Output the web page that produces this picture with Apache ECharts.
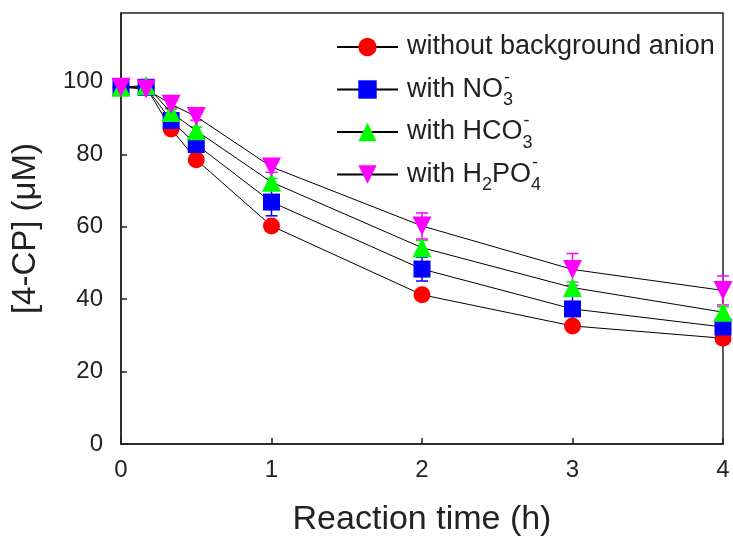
<!DOCTYPE html>
<html>
<head>
<meta charset="utf-8">
<script src="https://cdn.jsdelivr.net/npm/echarts@6/dist/echarts.min.js"></script>
<style>
  html, body { margin: 0; padding: 0; background: #fff; }
  #main { width: 733px; height: 542px; }
</style>
</head>
<body>
<div id="main"></div>
<script>
// reaction time (h)
var times = [0, 0.167, 0.333, 0.5, 1, 2, 3, 4];

// [4-CP] (uM) for each condition, with error bars
var noAnion    = [98.5, 98.5, 87.0, 78.5, 60.2, 41.2, 32.6, 29.2];
var noAnionErr = [1, 1, 1, 1, 1.2, 1, 1, 1];
var nitrate    = [98.5, 98.5, 89.3, 82.7, 66.8, 48.3, 37.3, 32.3];
var nitrateErr = [1, 1, 1, 1.5, 3.8, 3.3, 3.5, 1.5];
var bicarb     = [98.5, 99.0, 91.5, 86.5, 72.3, 54.2, 43.2, 36.4];
var bicarbErr  = [1, 1, 1, 1, 1, 2, 1.5, 1.5];
var phosph     = [98.5, 98.0, 93.8, 90.4, 76.5, 60.2, 48.2, 42.4];
var phosphErr  = [1, 1, 1, 1, 1.5, 3.6, 4.4, 4.0];

var xTicks = [0, 1, 2, 3, 4];
var yTicks = [0, 20, 40, 60, 80, 100];

var names = ['without background anion', 'with NO3', 'with HCO3', 'with H2PO4'];

function pairs(ys) {
    return times.map(function (t, i) { return [t, ys[i]]; });
}
function errData(ys, es) {
    return times.map(function (t, i) { return [t, ys[i], es[i]]; });
}

function errSeries(name, ys, es, color) {
    return {
        type: 'custom',
        name: name + ' err',
        z: 1,
        silent: true,
        data: errData(ys, es),
        renderItem: function (params, api) {
            var x = api.value(0), y = api.value(1), e = api.value(2);
            var top = api.coord([x, y + e]);
            var bot = api.coord([x, y - e]);
            var w = 6;
            var st = { stroke: color, lineWidth: 1.5 };
            return {
                type: 'group',
                children: [
                    { type: 'line', shape: { x1: top[0], y1: top[1], x2: bot[0], y2: bot[1] }, style: st },
                    { type: 'line', shape: { x1: top[0] - w, y1: top[1], x2: top[0] + w, y2: top[1] }, style: st },
                    { type: 'line', shape: { x1: bot[0] - w, y1: bot[1], x2: bot[0] + w, y2: bot[1] }, style: st }
                ]
            };
        }
    };
}

function lineSeries(name, ys, color, symbol, size, rot) {
    return {
        type: 'line',
        name: name,
        z: 3,
        data: pairs(ys),
        symbol: symbol,
        symbolSize: size,
        symbolRotate: rot || 0,
        showAllSymbol: true,
        lineStyle: { color: '#000', width: 1 },
        itemStyle: { color: color, opacity: 1 },
        emphasis: { disabled: true }
    };
}

var chart = echarts.init(document.getElementById('main'));
var option = {
    backgroundColor: '#fff',
    animation: false,
    textStyle: { fontFamily: 'Liberation Sans, Arial, sans-serif' },
    grid: {
        left: 121, right: 10, top: 13, bottom: 96,
        show: true, borderColor: '#222', borderWidth: 1.5, backgroundColor: 'transparent'
    },
    legend: {
        orient: 'vertical',
        left: 331,
        top: 22,
        itemWidth: 61,
        itemHeight: 23,
        itemGap: 2.5,
        data: names,
        formatter: function (n) {
            if (n === 'with NO3') return 'with NO{sub|3}{sup|-}';
            if (n === 'with HCO3') return 'with HCO{sub|3}{sup|-}';
            if (n === 'with H2PO4') return 'with H{sub|2}PO{sub|4}{sup|-}';
            return n;
        },
        textStyle: {
            color: '#222',
            fontSize: 27,
            lineHeight: 40,
            padding: [0, 0, 0, 4],
            fontFamily: 'Liberation Sans, Arial, sans-serif',
            rich: {
                sub: { fontSize: 18, lineHeight: 18, verticalAlign: 'bottom', color: '#222' },
                sup: { fontSize: 18, lineHeight: 18, verticalAlign: 'top', color: '#222', padding: [0, 0, 0, -9] }
            }
        }
    },
    xAxis: {
        type: 'value',
        min: 0, max: 4, interval: 1,
        name: 'Reaction time (h)',
        nameLocation: 'middle',
        nameGap: 59,
        nameTextStyle: { fontSize: 34, color: '#222' },
        axisLine: { lineStyle: { color: '#222', width: 1.5 } },
        axisTick: { inside: true, length: 6, lineStyle: { color: '#222', width: 1.5 } },
        axisLabel: {
            fontSize: 24, color: '#222', margin: 14,
            formatter: function (v) { return xTicks.indexOf(v) >= 0 ? String(v) : ''; }
        },
        splitLine: { show: false }
    },
    yAxis: {
        type: 'value',
        min: 0, max: 119, interval: 20,
        name: '[4-CP] (μM)',
        nameLocation: 'middle',
        nameGap: 79,
        nameTextStyle: { fontSize: 33, color: '#222' },
        axisLine: { lineStyle: { color: '#222', width: 1.5 } },
        axisTick: { inside: true, length: 6, lineStyle: { color: '#222', width: 1.5 } },
        axisLabel: {
            fontSize: 24, color: '#222', margin: 18,
            showMaxLabel: false,
            formatter: function (v) { return yTicks.indexOf(v) >= 0 ? String(v) : ''; }
        },
        splitLine: { show: false }
    },
    series: [
        errSeries(names[0], noAnion, noAnionErr, '#ff0000'),
        errSeries(names[1], nitrate, nitrateErr, '#0000ff'),
        errSeries(names[2], bicarb, bicarbErr, '#00ee00'),
        errSeries(names[3], phosph, phosphErr, '#ff00ff'),
        lineSeries(names[0], noAnion, '#ff0000', 'circle', 17),
        lineSeries(names[1], nitrate, '#0000ff', 'rect', 17),
        lineSeries(names[2], bicarb, '#00ff00', 'triangle', 19),
        lineSeries(names[3], phosph, '#ff00ff', 'triangle', 19, 180)
    ]
};
chart.setOption(option);
</script>
</body>
</html>
